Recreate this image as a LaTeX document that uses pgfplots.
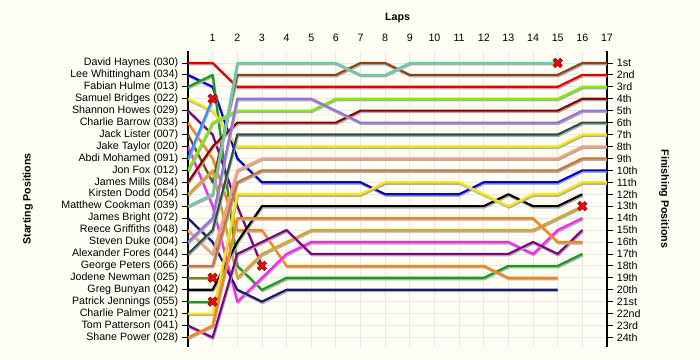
\documentclass[border=0pt]{standalone}
\usepackage{pgfplots}
\pgfplotsset{compat=1.18}
\usepackage{fontspec}
\setmainfont{Liberation Sans}
\definecolor{bg}{RGB}{255,254,244}
\definecolor{cRed}{RGB}{228,0,0}
\definecolor{cBlue}{RGB}{0,0,225}
\definecolor{cGreen}{RGB}{20,160,20}
\definecolor{cYellow}{RGB}{255,230,0}
\definecolor{cPurple}{RGB}{128,0,128}
\definecolor{cOrange}{RGB}{255,130,10}
\definecolor{cBrown}{RGB}{139,69,19}
\definecolor{cMagenta}{RGB}{255,30,255}
\definecolor{cDodger}{RGB}{40,144,255}
\definecolor{cLime}{RGB}{124,240,0}
\definecolor{cDkRed}{RGB}{139,0,0}
\definecolor{cGold}{RGB}{218,165,32}
\definecolor{cTeal}{RGB}{102,205,170}
\definecolor{cNavy}{RGB}{25,25,112}
\definecolor{cSalmon}{RGB}{250,160,122}
\definecolor{cLav}{RGB}{147,112,219}
\definecolor{cSlate}{RGB}{47,79,79}
\definecolor{cSienna}{RGB}{205,115,50}
\definecolor{cOlive}{RGB}{128,128,20}
\begin{document}
\fontsize{8}{9.6}\selectfont
\begin{tikzpicture}
\fill[bg] (-141pt,-9.75pt) rectangle (384pt,260.25pt);
\begin{axis}[
  at={(0,0)}, anchor=south west,
  scale only axis, width=314.25pt, height=222pt,
  xmin=0, xmax=17, ymin=0, ymax=24.8, y dir=reverse,
  xtick={1,...,17}, xtick pos=upper, xticklabel pos=upper,
  ytick={1,...,24}, ytick pos=left,
  yticklabels={David Haynes (030),Lee Whittingham (034),Fabian Hulme (013),Samuel Bridges (022),Shannon Howes (029),Charlie Barrow (033),Jack Lister (007),Jake Taylor (020),Abdi Mohamed (091),Jon Fox (012),James Mills (084),Kirsten Dodd (054),Matthew Cookman (039),James Bright (072),Reece Griffiths (048),Steven Duke (004),Alexander Fores (044),George Peters (066),Jodene Newman (025),Greg Bunyan (042),Patrick Jennings (055),Charlie Palmer (021),Tom Patterson (041),Shane Power (028)},
  tick align=outside, major tick length=4.5pt,
  x tick style={draw=none},
  y tick style={black, line width=0.6pt},
  separate axis lines,
  x axis line style={draw=none},
  y axis line style={black, line width=0.8pt},
  grid=major, grid style={draw=black!9, line width=0.6pt},
  tick label style={font=\fontsize{8}{9.6}\selectfont},
  /pgf/number format/assume math mode=true,
  drv/.style={line width=1.6pt, no markers, line join=round,
     preaction={draw=black!32, transform canvas={xshift=0.5pt,yshift=-1.1pt}}},
]
\addplot[drv, color=cRed] coordinates {(0,1)(1,1)(2,3)(3,3)(4,3)(5,3)(6,3)(7,3)(8,3)(9,3)(10,3)(11,3)(12,3)(13,3)(14,3)(15,3)(16,2)(17,2)};
\addplot[drv, color=cBlue] coordinates {(0,2)(1,3)(2,9)(3,11)(4,11)(5,11)(6,11)(7,11)(8,12)(9,12)(10,12)(11,12)(12,11)(13,11)(14,11)(15,11)(16,10)(17,10)};
\addplot[drv, color=cGreen] coordinates {(0,3)(1,2)(2,18)(3,20)(4,19)(5,19)(6,19)(7,19)(8,19)(9,19)(10,19)(11,19)(12,19)(13,18)(14,18)(15,18)(16,17)};
\addplot[drv, color=cYellow] coordinates {(0,4)(1,5)(2,8)(3,8)(4,8)(5,8)(6,8)(7,8)(8,8)(9,8)(10,8)(11,8)(12,8)(13,8)(14,8)(15,8)(16,7)(17,7)};
\addplot[drv, color=cPurple] coordinates {(0,5)(1,7)(2,13)(3,18)};
\addplot[drv, color=cOrange] coordinates {(0,6)(1,9)(2,15)(3,15)(4,18)(5,18)(6,18)(7,18)(8,18)(9,18)(10,18)(11,18)(12,18)(13,19)(14,19)(15,19)};
\addplot[drv, color=cBrown] coordinates {(0,7)(1,11)(2,2)(3,2)(4,2)(5,2)(6,2)(7,1)(8,1)(9,2)(10,2)(11,2)(12,2)(13,2)(14,2)(15,2)(16,1)(17,1)};
\addplot[drv, color=cMagenta] coordinates {(0,8)(1,13)(2,21)(3,19)(4,17)(5,16)(6,16)(7,16)(8,16)(9,16)(10,16)(11,16)(12,16)(13,16)(14,17)(15,15)(16,14)};
\addplot[drv, color=cDodger] coordinates {(0,9)(1,4)};
\addplot[drv, color=cLime] coordinates {(0,10)(1,6)(2,5)(3,5)(4,5)(5,5)(6,4)(7,4)(8,4)(9,4)(10,4)(11,4)(12,4)(13,4)(14,4)(15,4)(16,3)(17,3)};
\addplot[drv, color=cDkRed] coordinates {(0,11)(1,8)(2,6)(3,6)(4,6)(5,6)(6,6)(7,5)(8,5)(9,5)(10,5)(11,5)(12,5)(13,5)(14,5)(15,5)(16,4)(17,4)};
\addplot[drv, color=cGold] coordinates {(0,12)(1,10)(2,19)(3,17)(4,16)(5,15)(6,15)(7,15)(8,15)(9,15)(10,15)(11,15)(12,15)(13,15)(14,15)(15,14)(16,13)};
\addplot[drv, color=cTeal] coordinates {(0,13)(1,12)(2,1)(3,1)(4,1)(5,1)(6,1)(7,2)(8,2)(9,1)(10,1)(11,1)(12,1)(13,1)(14,1)(15,1)};
\addplot[drv, color=cNavy] coordinates {(0,14)(1,16)(2,20)(3,21)(4,20)(5,20)(6,20)(7,20)(8,20)(9,20)(10,20)(11,20)(12,20)(13,20)(14,20)(15,20)};
\addplot[drv, color=cSalmon] coordinates {(0,15)(1,17)(2,10)(3,9)(4,9)(5,9)(6,9)(7,9)(8,9)(9,9)(10,9)(11,9)(12,9)(13,9)(14,9)(15,9)(16,8)(17,8)};
\addplot[drv, color=cLav] coordinates {(0,16)(1,14)(2,4)(3,4)(4,4)(5,4)(6,5)(7,6)(8,6)(9,6)(10,6)(11,6)(12,6)(13,6)(14,6)(15,6)(16,5)(17,5)};
\addplot[drv, color=cSlate] coordinates {(0,17)(1,15)(2,7)(3,7)(4,7)(5,7)(6,7)(7,7)(8,7)(9,7)(10,7)(11,7)(12,7)(13,7)(14,7)(15,7)(16,6)(17,6)};
\addplot[drv, color=cSienna] coordinates {(0,18)(1,18)(2,11)(3,10)(4,10)(5,10)(6,10)(7,10)(8,10)(9,10)(10,10)(11,10)(12,10)(13,10)(14,10)(15,10)(16,9)(17,9)};
\addplot[drv, color=cOlive] coordinates {(0,19)(1,19)};
\addplot[drv, color=black] coordinates {(0,20)(1,20)(2,16)(3,13)(4,13)(5,13)(6,13)(7,13)(8,13)(9,13)(10,13)(11,13)(12,13)(13,12)(14,13)(15,13)(16,12)};
\addplot[drv, color=cGreen] coordinates {(0,21)(1,21)};
\addplot[drv, color=cYellow] coordinates {(0,22)(1,22)(2,12)(3,12)(4,12)(5,12)(6,12)(7,12)(8,11)(9,11)(10,11)(11,11)(12,12)(13,13)(14,12)(15,12)(16,11)(17,11)};
\addplot[drv, color=cPurple] coordinates {(0,23)(1,24)(2,17)(3,16)(4,15)(5,17)(6,17)(7,17)(8,17)(9,17)(10,17)(11,17)(12,17)(13,17)(14,16)(15,17)(16,15)};
\addplot[drv, color=cOrange] coordinates {(0,24)(1,23)(2,14)(3,14)(4,14)(5,14)(6,14)(7,14)(8,14)(9,14)(10,14)(11,14)(12,14)(13,14)(14,14)(15,16)(16,16)};
% retirements
\addplot[only marks, mark=x, mark size=4pt, mark options={line width=2.8pt, color=red!45!black}] coordinates {(1,4)(1,19)(1,21)(3,18)(15,1)(16,13)};
\addplot[only marks, mark=x, mark size=3.6pt, mark options={line width=1.8pt, color=red}] coordinates {(1,4)(1,19)(1,21)(3,18)(15,1)(16,13)};
\end{axis}
\begin{axis}[
  at={(0,0)}, anchor=south west,
  scale only axis, width=314.25pt, height=222pt,
  xmin=0, xmax=17, ymin=0, ymax=24.8, y dir=reverse,
  xtick=\empty,
  ytick={1,...,24}, ytick pos=right,
  yticklabels={1st,2nd,3rd,4th,5th,6th,7th,8th,9th,10th,11th,12th,13th,14th,15th,16th,17th,18th,19th,20th,21st,22nd,23rd,24th},
  tick align=outside, major tick length=4.5pt,
  y tick style={black, line width=0.6pt},
  axis line style={draw=none},
  tick label style={font=\fontsize{8}{9.6}\selectfont},
]
\end{axis}
\node[font=\bfseries\fontsize{8}{9.6}\selectfont] at (157.125pt,246.75pt) {Laps};
\node[font=\bfseries\fontsize{8}{9.6}\selectfont, rotate=90] at (-120pt,111pt) {Starting Positions};
\node[font=\bfseries\fontsize{8}{9.6}\selectfont, rotate=-90] at (357pt,111pt) {Finishing Positions};
\pgfresetboundingbox
\path (-141pt,-9.75pt) rectangle (384pt,260.25pt);
\end{tikzpicture}
\end{document}
